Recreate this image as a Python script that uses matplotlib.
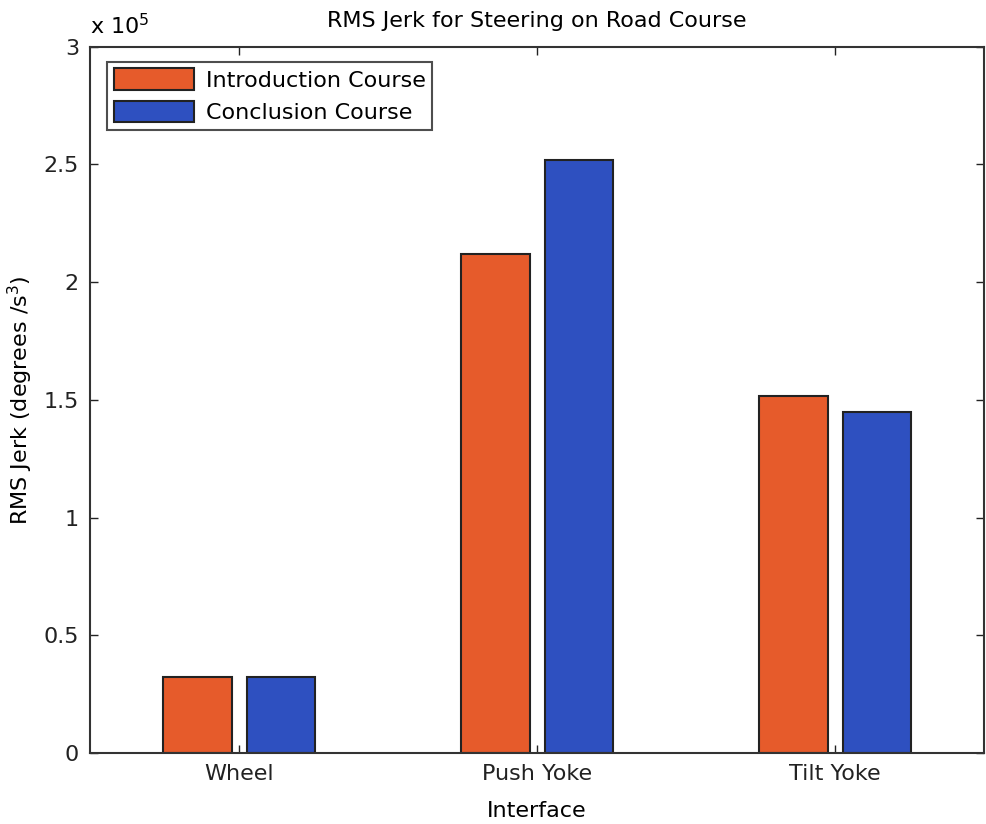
import numpy as np
import matplotlib.pyplot as plt

# ── Data ──────────────────────────────────────────────────────────────────────

interfaces   = ["Wheel", "Push Yoke", "Tilt Yoke"]
intro_jerk   = [0.322e5, 2.12e5, 1.515e5]   # degrees/s^3
concl_jerk   = [0.322e5, 2.52e5, 1.45e5]
series_names = ["Introduction Course", "Conclusion Course"]
y_ticks      = [0, 0.5, 1, 1.5, 2, 2.5, 3]
SCALE        = 1e5

# ── Style ─────────────────────────────────────────────────────────────────────

plt.rcParams["font.family"] = ["DejaVu Sans"]
ORANGE = "#E65B2B"
BLUE   = "#2E50C0"
FS     = 16

fig = plt.figure(figsize=(9.86, 8.24), dpi=100)
ax = fig.add_axes([0.0913, 0.0862, 0.907, 0.857])

x = np.arange(1, len(interfaces) + 1)
offset, width = 0.14, 0.23

ax.bar(x - offset, np.array(intro_jerk) / SCALE, width, color=ORANGE,
       edgecolor="#222222", linewidth=1.5, label=series_names[0])
ax.bar(x + offset, np.array(concl_jerk) / SCALE, width, color=BLUE,
       edgecolor="#222222", linewidth=1.5, label=series_names[1])

ax.set_xlim(0.5, 3.5)
ax.set_ylim(0, 3)
ax.set_xticks(x)
ax.set_xticklabels(interfaces)
ax.set_yticks(y_ticks)
ax.set_yticklabels([f"{t:g}" for t in y_ticks])
ax.tick_params(direction="in", top=True, right=True, length=6,
               width=1, labelsize=FS, colors="#222222", pad=8)
for s in ax.spines.values():
    s.set_linewidth(1.5)
    s.set_color("#333333")

ax.set_title("RMS Jerk for Steering on Road Course", fontsize=FS, pad=14)
ax.set_xlabel("Interface", fontsize=FS, labelpad=12)
ax.set_ylabel("RMS Jerk (degrees /s$^3$)", fontsize=FS, labelpad=6)
ax.text(0.0, 1.012, r"x 10$^5$", transform=ax.transAxes, fontsize=FS,
        ha="left", va="bottom")

leg = ax.legend(loc="upper left", fontsize=FS, frameon=True, fancybox=False,
                edgecolor="#222222", handlelength=3.6, handleheight=1.13,
                bbox_to_anchor=(0.019, 0.979), borderaxespad=0,
                labelspacing=0.45, handletextpad=0.55, borderpad=0.3)
leg.get_frame().set_linewidth(1.5)

fig.savefig("out.png", dpi=100)
